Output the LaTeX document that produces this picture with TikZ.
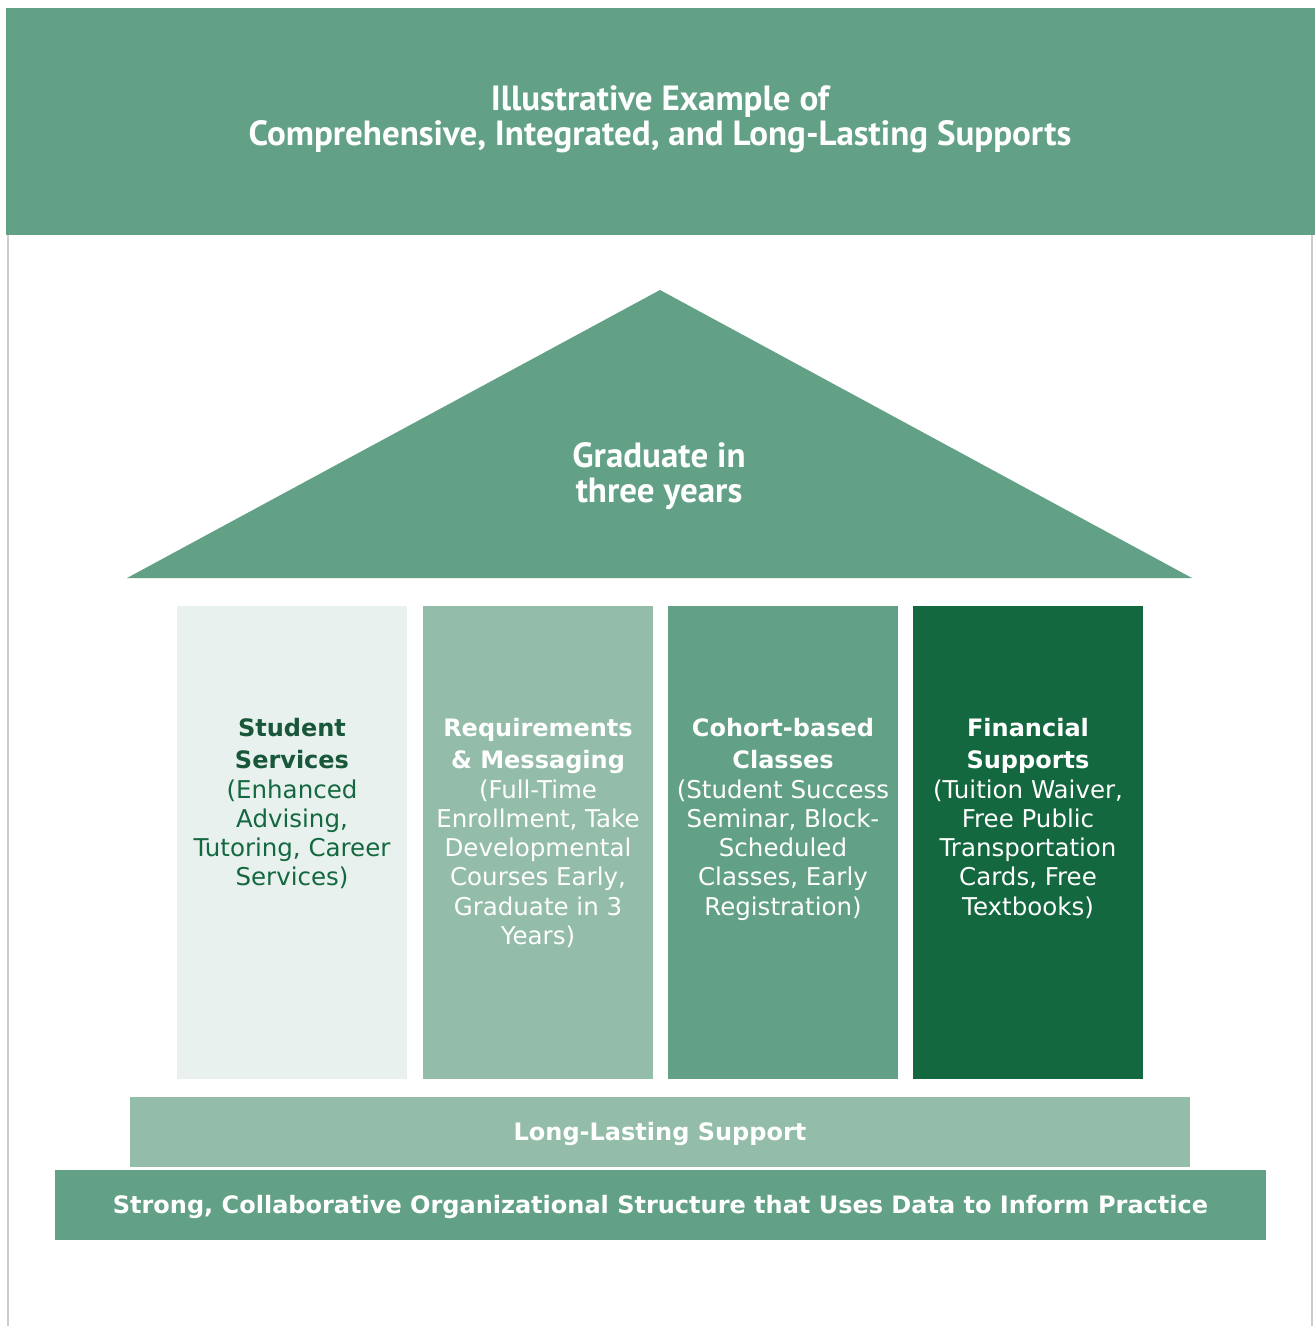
\documentclass[tikz,border=0pt]{standalone}
\usepackage{fontspec}
\setmainfont{DejaVu Sans}
\newfontfamily\headfont{PT Sans}
\usetikzlibrary{positioning}
\definecolor{houseGreen}{HTML}{63A187}
\definecolor{paleGreen}{HTML}{E8F1EE}
\definecolor{softGreen}{HTML}{93BDA9}
\definecolor{deepGreen}{HTML}{13683F}
\definecolor{darkGreen}{HTML}{18573A}
\definecolor{frameGray}{HTML}{CCCCCC}
\newcommand{\pillarhead}[1]{{\fontsize{24}{29.3}\selectfont\bfseries #1}}
\newcommand{\toprule}[1]{\rule{0pt}{#1}}
\begin{document}
\begin{tikzpicture}[x=1pt,y=-1pt]
\tikzstyle{every node}+=[inner sep=0pt, align=center]
\tikzstyle{pillar}=[rectangle, minimum width=230, minimum height=473]
\tikzstyle{pillarlabel}=[anchor=north, font=\fontsize{24.5}{29.3}\selectfont]
\tikzstyle{bigtext}=[anchor=north, text=white, font=\headfont\fontsize{35}{35}\selectfont\bfseries]
\tikzstyle{band}=[rectangle, minimum height=70, text height=17.5pt, text depth=0pt, text=white, font=\fontsize{24}{29}\selectfont\bfseries]
\useasboundingbox (0,0) rectangle (1315,1326);
% banner and frame
\fill [houseGreen] (6,8) rectangle (1315,235);
\draw [frameGray, line width=2.5] (8,235) -- (8,1326);
\draw [frameGray, line width=2.5] (1312,235) -- (1312,1326);
\node (title) [bigtext] at (660,84) {\toprule{26pt}Illustrative Example of\\Comprehensive, Integrated, and Long-Lasting Supports};
% roof
\fill [houseGreen] (127,578) -- (660,290) -- (1192,578) -- cycle;
\node (roof) [bigtext] at (659,441) {\toprule{26pt}Graduate in\\three years};
% pillars
\node (pillarA) [pillar, fill=paleGreen] at (292,842.5) {};
\node (pillarB) [pillar, fill=softGreen] at (538,842.5) {};
\node (pillarC) [pillar, fill=houseGreen] at (783,842.5) {};
\node (pillarD) [pillar, fill=deepGreen] at (1028,842.5) {};
\node (labelA) [pillarlabel, text=deepGreen] at ([yshift=-110]pillarA.north) {\toprule{20pt}\textcolor{darkGreen}{\pillarhead{Student}}\\[2.7pt]\textcolor{darkGreen}{\pillarhead{Services}}\\[0.7pt](Enhanced\\Advising,\\Tutoring, Career\\Services)};
\node (labelB) [pillarlabel, text=white] at ([yshift=-110]pillarB.north) {\toprule{20pt}\pillarhead{Requirements}\\[2.7pt]\pillarhead{\& Messaging}\\[0.7pt](Full-Time\\Enrollment, Take\\Developmental\\Courses Early,\\Graduate in 3\\Years)};
\node (labelC) [pillarlabel, text=white] at ([yshift=-110]pillarC.north) {\toprule{20pt}\pillarhead{Cohort-based}\\[2.7pt]\pillarhead{Classes}\\[0.7pt](Student Success\\Seminar, Block-\\Scheduled\\Classes, Early\\Registration)};
\node (labelD) [pillarlabel, text=white] at ([yshift=-110]pillarD.north) {\toprule{20pt}\pillarhead{Financial}\\[2.7pt]\pillarhead{Supports}\\[0.7pt](Tuition Waiver,\\Free Public\\Transportation\\Cards, Free\\Textbooks)};
% foundation
\node (support) [band, fill=softGreen, minimum width=1060] at (660,1132) {Long-Lasting Support};
\node (structure) [band, fill=houseGreen, minimum width=1211] at (660.5,1205) {Strong, Collaborative Organizational Structure that Uses Data to Inform Practice};
\end{tikzpicture}
\end{document}
